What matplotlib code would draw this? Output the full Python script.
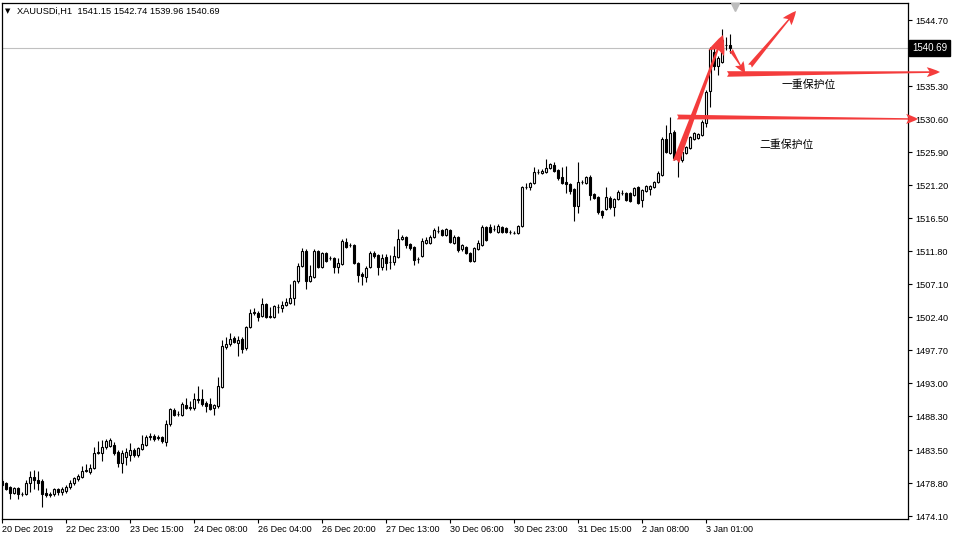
import matplotlib.pyplot as plt
from matplotlib.transforms import blended_transform_factory

plt.rcParams['font.family'] = ['Liberation Sans', 'DejaVu Sans']

# XAUUSDi H1 candles (oldest first)
opens = [
    1479.10, 1478.82, 1478.25, 1477.39, 1478.11, 1477.25, 1477.25, 1478.82, 1479.67, 1479.24,
    1479.10, 1477.39, 1477.11, 1477.25, 1477.96, 1477.53, 1477.68, 1478.25, 1478.82, 1479.38,
    1479.67, 1480.52, 1480.38, 1480.95, 1483.09, 1483.09, 1483.94, 1484.08, 1484.22, 1483.23,
    1481.66, 1482.52, 1482.80, 1483.51, 1482.80, 1483.66, 1484.22, 1485.36, 1485.51, 1485.22,
    1485.36, 1484.65, 1487.21, 1489.20, 1488.64, 1488.49, 1489.92, 1489.49, 1489.49, 1490.77,
    1490.77, 1490.20, 1490.06, 1489.49, 1489.77, 1492.47, 1498.17, 1498.60, 1499.45, 1498.74,
    1499.31, 1498.03, 1501.02, 1503.01, 1503.01, 1502.58, 1504.29, 1502.44, 1502.44, 1503.86,
    1503.72, 1504.15, 1504.43, 1505.14, 1507.56, 1509.69, 1511.83, 1507.56, 1508.13, 1511.83,
    1509.55, 1511.54, 1510.83, 1510.83, 1509.55, 1509.98, 1513.11, 1512.68, 1512.68, 1510.12,
    1508.56, 1508.13, 1509.55, 1511.54, 1511.26, 1509.55, 1510.97, 1510.26, 1510.26, 1510.97,
    1513.54, 1513.82, 1512.82, 1512.40, 1510.69, 1511.12, 1512.97, 1512.97, 1513.82, 1514.67,
    1514.82, 1514.11, 1514.82, 1512.97, 1513.82, 1512.11, 1512.40, 1511.54, 1510.40, 1512.11,
    1512.68, 1515.24, 1515.24, 1514.96, 1514.53, 1515.24, 1515.10, 1514.53, 1514.39, 1514.39,
    1515.39, 1520.94, 1520.94, 1521.50, 1523.07, 1522.93, 1523.07, 1523.64, 1524.07, 1523.36,
    1522.36, 1521.65, 1521.36, 1520.65, 1518.23, 1521.65, 1521.50, 1522.36, 1519.94, 1519.51,
    1517.52, 1517.81, 1519.37, 1518.09, 1519.23, 1520.08, 1520.08, 1520.08, 1519.80, 1520.94,
    1519.09, 1520.37, 1520.65, 1520.94, 1521.65, 1522.64, 1527.77, 1525.77, 1528.76, 1524.92,
    1524.78, 1525.77, 1526.49, 1527.77, 1527.91, 1528.34, 1530.04, 1534.60, 1540.15, 1538.15,
    1538.72, 1541.10, 1541.15,
]
highs = [
    1479.38, 1478.96, 1478.39, 1478.25, 1478.25, 1477.53, 1479.24, 1480.52, 1480.67, 1480.52,
    1479.38, 1478.11, 1477.53, 1478.11, 1478.11, 1478.25, 1478.53, 1479.24, 1479.67, 1480.09,
    1481.23, 1481.51, 1481.51, 1483.94, 1484.79, 1484.93, 1485.08, 1485.22, 1484.65, 1483.51,
    1483.51, 1483.80, 1484.51, 1483.80, 1483.94, 1485.65, 1485.65, 1485.93, 1485.79, 1485.65,
    1485.51, 1487.78, 1489.49, 1489.49, 1489.06, 1490.34, 1490.92, 1490.49, 1491.62, 1492.62,
    1492.19, 1490.49, 1490.92, 1490.06, 1493.90, 1499.16, 1499.59, 1500.16, 1499.74, 1499.74,
    1499.59, 1501.16, 1503.58, 1503.72, 1503.30, 1505.14, 1504.43, 1503.86, 1504.15, 1504.29,
    1504.72, 1505.14, 1507.14, 1507.70, 1510.12, 1512.26, 1512.11, 1509.84, 1512.11, 1511.97,
    1511.69, 1511.69, 1511.12, 1510.97, 1510.83, 1513.54, 1513.68, 1512.97, 1512.82, 1510.26,
    1508.84, 1509.69, 1511.83, 1511.83, 1511.40, 1511.40, 1511.40, 1511.26, 1512.54, 1514.96,
    1514.11, 1513.96, 1512.97, 1512.54, 1510.97, 1513.68, 1513.82, 1514.11, 1515.10, 1515.39,
    1514.96, 1515.10, 1514.96, 1514.11, 1513.96, 1512.82, 1512.54, 1511.69, 1512.40, 1513.39,
    1515.53, 1515.39, 1515.67, 1515.53, 1515.67, 1515.39, 1515.24, 1514.82, 1514.67, 1515.53,
    1521.08, 1521.50, 1521.65, 1523.78, 1523.50, 1523.50, 1524.92, 1524.35, 1524.49, 1523.50,
    1523.78, 1523.92, 1521.50, 1520.79, 1524.49, 1521.93, 1522.50, 1522.64, 1520.08, 1519.66,
    1517.66, 1520.94, 1519.66, 1519.37, 1520.51, 1520.51, 1520.22, 1520.22, 1520.94, 1521.08,
    1520.65, 1521.22, 1521.22, 1521.79, 1523.21, 1528.05, 1529.76, 1530.90, 1529.05, 1526.20,
    1526.06, 1526.77, 1528.19, 1528.76, 1528.62, 1530.47, 1534.74, 1540.86, 1540.72, 1539.58,
    1543.42, 1542.28, 1542.74,
]
lows = [
    1478.25, 1477.82, 1476.54, 1477.25, 1476.54, 1476.97, 1477.11, 1477.53, 1477.96, 1477.82,
    1475.40, 1476.83, 1476.83, 1476.97, 1477.11, 1477.11, 1477.39, 1477.96, 1478.53, 1479.10,
    1479.53, 1480.38, 1480.09, 1480.81, 1482.94, 1481.95, 1483.66, 1483.94, 1482.80, 1481.10,
    1480.24, 1481.38, 1481.95, 1482.52, 1482.52, 1483.51, 1484.08, 1484.93, 1484.79, 1484.93,
    1484.51, 1484.08, 1486.93, 1488.35, 1488.35, 1488.35, 1489.35, 1489.20, 1489.20, 1490.20,
    1489.77, 1488.92, 1489.20, 1488.49, 1489.49, 1492.33, 1497.89, 1498.31, 1498.74, 1496.89,
    1497.32, 1497.74, 1500.87, 1502.73, 1501.87, 1502.44, 1502.30, 1502.30, 1502.30, 1503.01,
    1503.15, 1504.00, 1504.29, 1504.15, 1507.28, 1509.55, 1506.42, 1507.42, 1507.99, 1509.41,
    1509.41, 1510.26, 1510.55, 1508.70, 1508.70, 1509.84, 1512.26, 1512.40, 1509.98, 1507.42,
    1506.99, 1507.42, 1509.41, 1510.83, 1508.41, 1509.12, 1509.12, 1509.27, 1509.84, 1510.83,
    1513.39, 1512.26, 1511.97, 1509.84, 1510.12, 1510.97, 1512.82, 1512.82, 1513.68, 1514.39,
    1513.96, 1513.96, 1512.97, 1512.82, 1511.69, 1511.83, 1511.40, 1510.26, 1510.26, 1511.97,
    1512.54, 1513.25, 1514.39, 1514.67, 1514.39, 1514.39, 1514.39, 1514.25, 1514.25, 1514.25,
    1515.24, 1520.65, 1520.51, 1521.36, 1522.79, 1522.79, 1522.93, 1523.50, 1523.07, 1521.93,
    1521.36, 1520.08, 1519.94, 1516.10, 1517.24, 1521.36, 1521.36, 1519.09, 1519.23, 1517.09,
    1516.52, 1517.66, 1517.81, 1516.81, 1519.09, 1519.80, 1518.94, 1518.80, 1519.66, 1518.52,
    1518.09, 1520.22, 1519.80, 1520.79, 1521.50, 1522.50, 1525.77, 1525.63, 1524.78, 1522.36,
    1524.49, 1525.63, 1526.34, 1527.62, 1527.77, 1528.19, 1529.47, 1532.32, 1537.58, 1536.87,
    1538.58, 1540.43, 1539.96,
]
closes = [
    1478.53, 1477.96, 1477.39, 1478.11, 1477.25, 1477.30, 1478.82, 1479.67, 1479.24, 1478.82,
    1477.25, 1477.11, 1477.25, 1477.96, 1477.53, 1477.96, 1478.25, 1478.82, 1479.53, 1479.81,
    1480.52, 1480.67, 1480.95, 1483.09, 1483.23, 1483.94, 1484.79, 1484.93, 1483.09, 1481.66,
    1483.09, 1483.23, 1483.51, 1482.80, 1483.80, 1484.37, 1485.36, 1485.51, 1485.08, 1485.30,
    1484.79, 1487.21, 1489.35, 1488.49, 1488.70, 1490.06, 1489.49, 1489.60, 1490.77, 1490.63,
    1490.06, 1489.77, 1489.35, 1489.92, 1492.62, 1498.31, 1498.60, 1499.31, 1498.88, 1499.16,
    1497.89, 1501.02, 1503.01, 1503.10, 1502.44, 1504.29, 1502.44, 1502.58, 1504.00, 1503.90,
    1504.15, 1504.57, 1505.14, 1507.56, 1509.69, 1511.83, 1507.56, 1508.27, 1511.83, 1509.55,
    1511.54, 1510.40, 1510.80, 1509.55, 1510.12, 1513.25, 1512.40, 1512.70, 1510.12, 1508.41,
    1508.27, 1509.41, 1511.54, 1511.12, 1509.55, 1510.83, 1510.12, 1510.30, 1511.12, 1513.54,
    1513.82, 1512.68, 1512.26, 1510.55, 1510.65, 1513.25, 1513.39, 1513.82, 1514.82, 1514.70,
    1514.11, 1514.96, 1513.11, 1513.82, 1511.97, 1512.68, 1511.54, 1510.40, 1512.26, 1512.97,
    1515.24, 1513.39, 1514.53, 1515.00, 1515.39, 1514.53, 1514.53, 1514.50, 1514.42, 1515.39,
    1520.94, 1520.98, 1521.50, 1523.07, 1523.10, 1523.21, 1523.64, 1524.21, 1523.21, 1522.22,
    1521.50, 1521.36, 1520.37, 1518.23, 1521.65, 1521.60, 1522.36, 1519.80, 1519.37, 1517.38,
    1516.95, 1519.51, 1518.09, 1519.23, 1520.22, 1520.10, 1519.09, 1518.94, 1520.79, 1518.66,
    1520.51, 1521.08, 1521.08, 1521.65, 1522.93, 1527.77, 1525.92, 1528.62, 1525.06, 1525.77,
    1525.92, 1526.63, 1528.05, 1528.62, 1528.48, 1530.19, 1534.45, 1540.57, 1538.15, 1539.29,
    1541.85, 1541.20, 1540.69,
]

date_ticks = [0, 16, 32, 48, 64, 80, 96, 112, 128, 144, 160, 176]
date_labels = ['20 Dec 2019', '22 Dec 23:00', '23 Dec 15:00', '24 Dec 08:00',
               '26 Dec 04:00', '26 Dec 20:00', '27 Dec 13:00', '30 Dec 06:00',
               '30 Dec 23:00', '31 Dec 15:00', '2 Jan 08:00', '3 Jan 01:00']
price_ticks = [1544.70, 1540.00, 1535.30, 1530.60, 1525.90, 1521.20, 1516.50, 1511.80,
               1507.10, 1502.40, 1497.70, 1493.00, 1488.30, 1483.50, 1478.80, 1474.10]
last_price = 1540.69
header = 'XAUUSDi,H1  1541.15 1542.74 1539.96 1540.69'

# hand drawn annotations: (tail bar, tail price), (tip bar, tip price), style, scale
red = '#f43c3c'
arrows = [
    ((168.5, 1524.49), (180.25, 1542.57), 'fancy,head_length=0.7,head_width=0.6,tail_width=0.25', 20),
    ((182.25, 1540.43), (185.75, 1537.16), 'fancy,head_length=0.8,head_width=0.7,tail_width=0.3', 10),
    ((187.0, 1538.15), (198.5, 1545.98), 'fancy,head_length=1.0,head_width=0.8,tail_width=0.35', 10),
    ((181.25, 1537.02), (234.5, 1537.30), 'fancy,head_length=0.95,head_width=0.7,tail_width=0.4', 10),
    ((168.75, 1530.90), (229.0, 1530.61), 'fancy,head_length=0.85,head_width=0.7,tail_width=0.35', 10),
]
notes = [((201.75, 1535.45), '一重保护位'), ((196.25, 1526.91), '二重保护位')]

fig = plt.figure(figsize=(9.55, 5.4), dpi=100)
ax = fig.add_axes([1.5 / 955, 21 / 540, 906.5 / 955, 516 / 540])

x = list(range(len(opens)))
bottoms = [min(o, c) for o, c in zip(opens, closes)]
heights = [abs(c - o) for o, c in zip(opens, closes)]
colors = ['white' if c >= o else 'black' for o, c in zip(opens, closes)]

ax.axhline(last_price, color='#c0c0c0', lw=0.8, zorder=1)
ax.vlines(x, lows, highs, color='black', lw=0.8, zorder=2)
ax.bar(x, heights, bottom=bottoms, width=0.5, color=colors, edgecolor='black',
       linewidth=0.8, zorder=3)

ax.set_xlim(-0.125, 226.5)
ax.set_ylim(1473.69, 1547.12)

ax.set_xticks(date_ticks)
ax.set_xticklabels(date_labels)
for lab in ax.get_xticklabels():
    lab.set_horizontalalignment('left')
ax.tick_params(axis='x', direction='out', length=3, pad=1.5, labelsize=6.5, width=0.8)

ax.yaxis.tick_right()
ax.set_yticks(price_ticks)
ax.set_yticklabels([f'{v:.2f}' for v in price_ticks])
ax.tick_params(axis='y', direction='out', length=3, pad=2, labelsize=6.6, width=0.8)
for s in ax.spines.values():
    s.set_linewidth(0.9)

# current price box on the scale (covers the 1540.00 label, as in MT4)
trans = blended_transform_factory(ax.transAxes, ax.transData)
ax.text(1.0045, last_price, f'{last_price:.2f}', transform=trans, color='white',
        fontsize=7.0, va='center', ha='left', clip_on=False, zorder=6,
        bbox=dict(boxstyle='square,pad=0.3', fc='black', ec='black'))

# chart shift marker
trans_x = blended_transform_factory(ax.transData, ax.transAxes)
ax.plot([183.25], [0.992], marker='v', ms=6, color='#bcbcbc', transform=trans_x,
        clip_on=False, zorder=5)

for tail, tip, style, scale in arrows:
    ax.annotate('', xy=tip, xytext=tail, annotation_clip=False,
                arrowprops=dict(arrowstyle=style, color=red, shrinkA=0, shrinkB=0,
                                mutation_scale=scale, lw=0))

for (bx, py), txt in notes:
    ax.text(bx, py, txt, fontsize=7.8, ha='center', va='center',
            family=['Noto Sans CJK SC', 'DejaVu Sans'])

fig.text(8 / 955, 1 - 11 / 540, '▼', fontsize=5, va='center', ha='center',
         family='DejaVu Sans')
fig.text(17 / 955, 1 - 11 / 540, header, fontsize=6.7, va='center', ha='left')

fig.savefig('out.png', dpi=100)
